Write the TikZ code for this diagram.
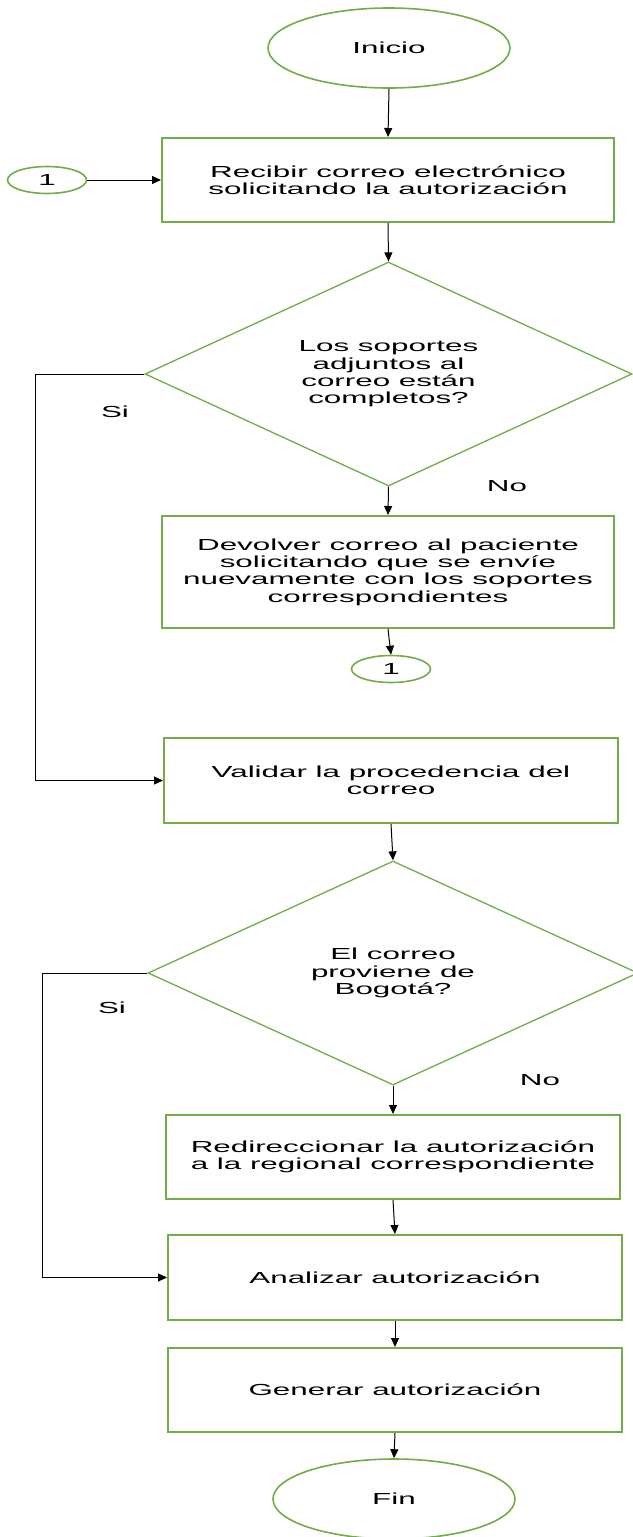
\documentclass[tikz,border=0pt]{standalone}
\usepackage{fontspec}
\setmainfont{Liberation Sans}[FakeStretch=1.96]
\usetikzlibrary{shapes.geometric,arrows.meta}
\definecolor{flowgreen}{RGB}{112,173,71}
\begin{document}
\begin{tikzpicture}[x=1pt,y=-1pt,
  every node/.style={font=\fontsize{16}{17.4}\selectfont, text=black},
  procbox/.style={draw=flowgreen, line width=2pt, rectangle, minimum width=452pt, minimum height=84pt, align=center, inner sep=0pt},
  terminal/.style={draw=flowgreen, line width=1.6pt, ellipse, minimum width=242pt, minimum height=80pt, inner sep=0pt},
  joint/.style={draw=flowgreen, line width=1.6pt, ellipse, minimum width=79pt, minimum height=27pt, inner sep=0pt},
  decision/.style={draw=flowgreen, line width=1.3pt, diamond, aspect=2.17, minimum width=487pt, minimum height=224pt, align=center, inner sep=0pt},
  arr/.style={draw=black, line width=1pt, -{Triangle[length=9pt,width=8pt]}}]

\path[use as bounding box, fill=white] (0,0) rectangle (632,1537);

% shapes of the flow
\node[terminal] (start) at (389,48) {Inicio};
\node[procbox] (r1) at (388,180) {Recibir correo electrónico\\solicitando la autorización};
\node[joint] (c1) at (47,180) {1};
\node[decision] (d1) at (388.5,374) {Los soportes\\adjuntos al\\correo están\\completos?};
\node[procbox, minimum height=112pt] (r2) at (388,572) {Devolver correo al paciente\\solicitando que se envíe\\nuevamente con los soportes\\correspondientes};
\node[joint] (c2) at (391,669) {1};
\node[procbox, minimum width=454pt, minimum height=85pt] (r3) at (391,780.5) {Validar la procedencia del\\correo};
\node[decision, minimum width=490pt] (d2) at (393,973) {El correo\\proviene de\\Bogotá?};
\node[procbox, minimum width=454pt] (r4) at (393,1157) {Redireccionar la autorización\\a la regional correspondiente};
\node[procbox, minimum width=454pt, minimum height=85pt] (r5) at (395,1277.5) {Analizar autorización};
\node[procbox, minimum width=454pt] (r6) at (395,1390) {Generar autorización};
\node[terminal] (stop) at (394,1499) {Fin};

% branch labels
\node (si1) at (115,412) {Si};
\node (no1) at (507,486) {No};
\node (si2) at (112,1008) {Si};
\node (no2) at (540,1080) {No};

% connectors
\draw[arr] (start.south) -- (r1.north);
\draw[arr] (c1.east) -- (r1.west);
\draw[arr] (r1.south) -- (d1.north);
\draw[arr] (d1.south) -- (r2.north);
\draw[arr] (r2.south) -- (c2.north);
\draw[arr] (d1.west) -- ++(-109,0) |- (r3.west);
\draw[arr] (r3.south) -- (d2.north);
\draw[arr] (d2.south) -- (r4.north);
\draw[arr] (d2.west) -- ++(-105,0) |- (r5.west);
\draw[arr] (r4.south) -- (r5.north);
\draw[arr] (r5.south) -- (r6.north);
\draw[arr] (r6.south) -- (stop.north);
\end{tikzpicture}
\end{document}
